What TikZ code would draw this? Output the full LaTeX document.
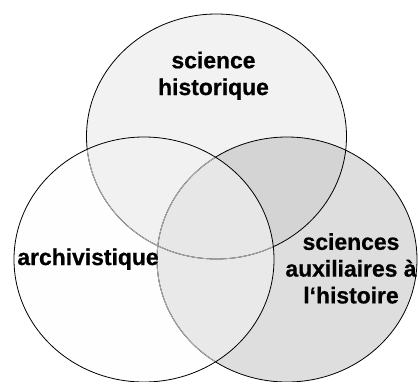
\documentclass[tikz,border=0pt]{standalone}
\usepackage{fontspec}
\setmainfont{Liberation Sans}
\newfontfamily\labelfont{Liberation Sans Bold}[FakeBold=0.7]
\usepackage{xcolor}
\usepackage{tikz}

\begin{document}
\begin{tikzpicture}[x=1pt,y=-1pt,
    rad/.style={x radius=130pt,y radius=122.5pt},
    label/.style={align=center,inner sep=0pt,font=\labelfont\fontsize{22.9}{26.8}\selectfont}]
    \useasboundingbox (0,0) rectangle (418,381);
    \coordinate (T) at (216.5,136.5);
    \coordinate (L) at (144,259.5);
    \coordinate (R) at (287,259.5);
    % single areas
    \fill[gray!10] (T) ellipse[rad];
    \fill[gray!1] (L) ellipse[rad];
    \fill[gray!26] (R) ellipse[rad];
    % overlaps
    \begin{scope}
        \clip (T) ellipse[rad];
        \fill[gray!11] (L) ellipse[rad];
        \fill[gray!34] (R) ellipse[rad];
    \end{scope}
    \begin{scope}
        \clip (L) ellipse[rad];
        \fill[gray!17] (R) ellipse[rad];
        \clip (T) ellipse[rad];
        \fill[gray!19] (R) ellipse[rad];
    \end{scope}
    % outlines
    \draw[line width=0.8pt] (T) ellipse[rad];
    \draw[line width=0.8pt] (R) ellipse[rad];
    \begin{scope}
        \clip (L) ellipse[rad];
        \draw[line width=0.8pt,gray!60] (T) ellipse[rad];
        \draw[line width=0.8pt,gray!60] (R) ellipse[rad];
    \end{scope}
    \draw[line width=0.8pt] (L) ellipse[rad];
    % labels
    \node[label] (hist) at (213.5,75.7) {science\\historique};
    \node[label] (arch) at (88,259.1) {archivistique};
    \node[label] (aux) at (351,268.4) {sciences\\auxiliaires à\\l‘histoire};
\end{tikzpicture}
\end{document}
